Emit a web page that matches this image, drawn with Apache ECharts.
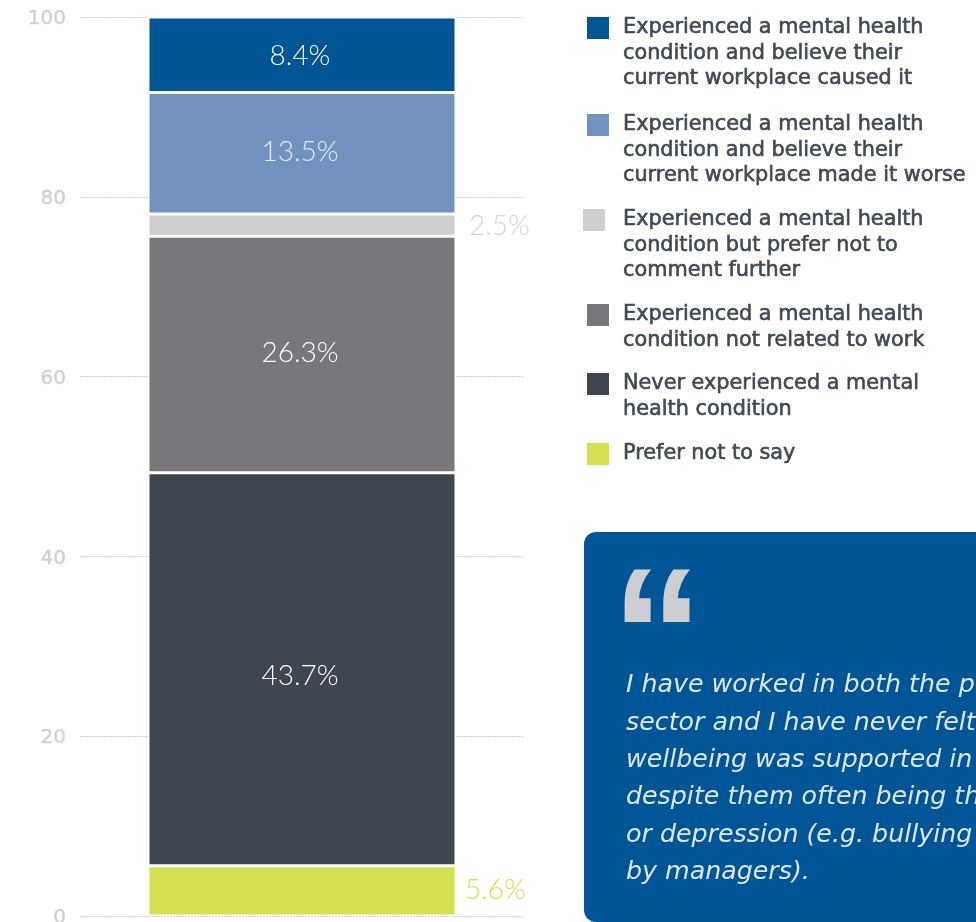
<!DOCTYPE html>
<html><head><meta charset="utf-8">
<style>html,body{margin:0;padding:0;background:#fff;overflow:hidden}#c{width:976px;height:922px}</style>
<script src="https://cdn.jsdelivr.net/npm/echarts@6/dist/echarts.min.js"></script>
</head><body><div id="c"></div>
<script>
const categories = ['Response'];
const seriesNames = [
  'Prefer not to say',
  'Never experienced a mental\nhealth condition',
  'Experienced a mental health\ncondition not related to work',
  'Experienced a mental health\ncondition but prefer not to\ncomment further',
  'Experienced a mental health\ncondition and believe their\ncurrent workplace made it worse',
  'Experienced a mental health\ncondition and believe their\ncurrent workplace caused it'
];
const seriesValues = [5.6, 43.7, 26.3, 2.5, 13.5, 8.4];
const seriesColors = ['#d5e04f', '#3f4650', '#77787b', '#cdced0', '#7292bf', '#005596'];
const labelColors = ['#d5e04f', '#ffffff', '#ffffff', '#d4d5d7', '#e6ebf3', '#ffffff'];
const labelPositions = ['right', 'inside', 'inside', 'right', 'inside', 'inside'];
const labelDistances = [9, 0, 0, 13, 0, 0];
const labelOffsets = [[0, -1], [-2, 7], [-2, -2], [0, 1], [-2, -1], [-2, 1]];
const legendLeft = [587, 587, 587, 583, 587, 587];
const legendMarkerTop = [443, 373, 304, 209, 114, 17];
const legendTextLeft = [9, 9, 9, 13, 9, 9];
const yTicks = { min: 0, max: 100, interval: 20 };
const quoteLines = [
  'I have worked in both the p',
  'sector and I have never felt',
  'wellbeing was supported in',
  'despite them often being th',
  'or depression (e.g. bullying',
  'by managers).'
];

const LH = 25.5;
const lineCount = n => n.split('\n').length;
const chart = echarts.init(document.getElementById('c'), null, { renderer: 'canvas' });
const LIGHT = 'Lato, "Noto Sans", sans-serif';
const WIDE = '"DejaVu Sans", sans-serif';
chart.setOption({
  animation: false,
  backgroundColor: '#fff',
  grid: { left: 80, top: 17, width: 444, height: 899, outerBoundsMode: 'none' },
  xAxis: { type: 'category', data: categories, axisLine: { show: false }, axisTick: { show: false }, axisLabel: { show: false } },
  yAxis: {
    type: 'value', min: yTicks.min, max: yTicks.max, interval: yTicks.interval,
    axisLine: { show: false }, axisTick: { show: false },
    axisLabel: {
      margin: 14, formatter: '{a|{value}}',
      rich: { a: { color: '#cfd0d2', fontFamily: WIDE, fontSize: 20, textBorderColor: '#cfd0d2', textBorderWidth: 0.4, padding: [4, 0, 0, 0] } }
    },
    splitLine: { show: true, lineStyle: { color: '#d0d1d3', width: 1, type: [2, 1] } }
  },
  legend: seriesNames.map((n, i) => ({
    data: [n], left: legendLeft[i],
    top: legendMarkerTop[i] + 11 - (2 * lineCount(n) - 1) * LH / 2,
    padding: 0, icon: 'rect', itemWidth: 22, itemHeight: 22, selectedMode: false,
    itemStyle: { borderWidth: 0 },
    formatter: name => '\n'.repeat(lineCount(name) - 1) + name,
    textStyle: { color: '#414954', fontFamily: WIDE, fontSize: 20.8, lineHeight: LH,
      textBorderColor: '#414954', textBorderWidth: 0.6,
      padding: [0, 0, 0, legendTextLeft[i]] }
  })),
  series: seriesNames.map((n, i) => ({
    name: n, type: 'bar', stack: 'total', barWidth: 308,
    data: [seriesValues[i]],
    itemStyle: { color: seriesColors[i], borderColor: '#fff', borderWidth: 1.5 },
    label: {
      show: true, position: labelPositions[i], distance: labelDistances[i], offset: labelOffsets[i],
      formatter: p => p.value.toFixed(1) + '%',
      color: labelColors[i], fontFamily: LIGHT, fontSize: 28, fontWeight: 300
    }
  })),
  graphic: [
    { type: 'rect', z: 10, shape: { x: 584, y: 532, width: 440, height: 390, r: 12 }, style: { fill: '#005596' } },
    { type: 'text', z: 11, x: 611, y: 553, style: { text: '\u201C', fill: '#cdced0', font: 'bold 185px "Liberation Sans", sans-serif', textVerticalAlign: 'top' } },
    { type: 'text', z: 11, x: 626, y: 667, style: { text: quoteLines.join('\n'), fill: '#dfe7f0',
      font: 'italic 25.3px "DejaVu Sans", sans-serif', lineHeight: 37.4 } }
  ]
});
</script></body></html>
